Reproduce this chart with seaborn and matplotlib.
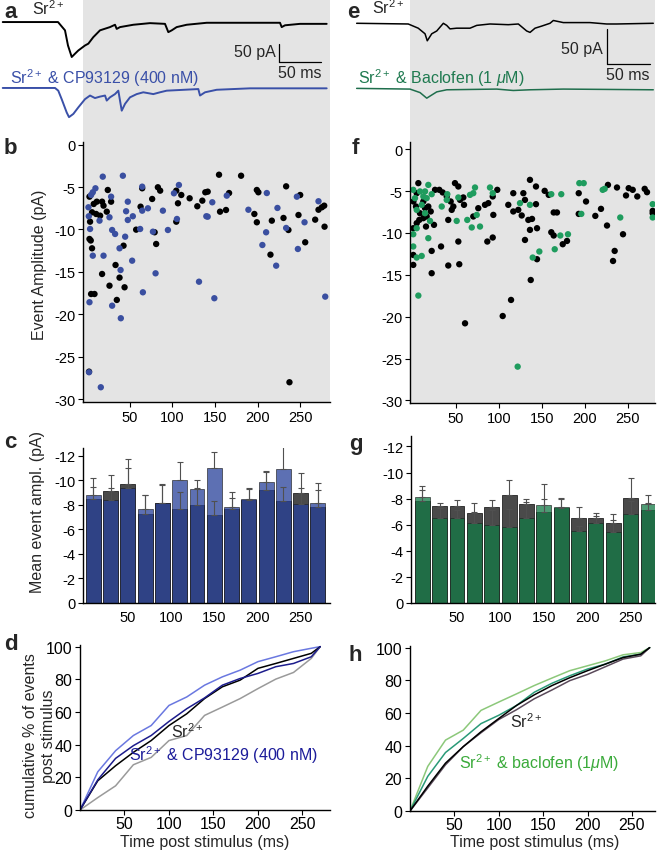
import numpy as np
import matplotlib
matplotlib.use("Agg")
import matplotlib.pyplot as plt
import seaborn as sns

# ---------------- DATA ----------------
# panel a traces (time ms, current pA relative to baseline)
tr_a_sr_t = [-99.2, -34.3, -26.1, -22.6, -18.2, -14.4, -10.5, -2.6, 1.3, 7.1, 15.0, 26.7, 32.6, 34.6, 38.5,
             54.1, 73.7, 91.3, 95.2, 99.2, 105.0, 116.8, 140.3, 226.3, 228.3, 232.2, 249.8, 281.1]
tr_a_sr_i = [0, 0, -23, -65, -97, -88, -79, -65, -60, -42, -23, -14, -7.5, -19, -14,
             -7.5, -3, -5, -28, -23, -14, -7.5, -2, -2, -14, -9, -5, -5]
tr_a_cp_t = [-99.2, -37.8, -34.0, -30.0, -24.1, -21.4, -16.3, -10.5, -2.6, 3.3, 9.1, 15.0, 20.9, 22.9, 26.7,
             32.6, 36.5, 40.5, 44.4, 50.2, 58.1, 65.8, 77.6, 85.4, 93.3, 130.4, 132.4, 138.3, 152.0, 191.1, 281.1]
tr_a_cp_i = [0, 0, -7.5, -31, -68, -81, -72, -54, -31, -21, -28, -24, -21, -35, -26,
             -17, -7.5, -63, -44, -26, -17, -12, -17, -12, -7.5, -3, -21, -12, -5, -1, -1]
# panel e traces
tr_e_sr_t = [-65.5, -5.5, 0.3, 6.1, 14.0, 16.6, 21.8, 27.6, 35.3, 39.2, 43.0, 50.8, 66.3, 74.1, 89.5, 110.8,
             122.5, 132.2, 136.1, 141.9, 149.7, 159.3, 163.2, 174.8, 205.8, 225.2, 236.9, 279.4]
tr_e_sr_i = [0, -1, -4, -7, -15, -25, -15, -11, 0, -3, -8, -7, -7, -3, -1, -2,
             -1, -11, -13, -7, -4, 0, 4, 1, 1, -1, -1, 0]
tr_e_bac_t = [-65.5, -3.5, 8.2, 16.0, 19.8, 27.6, 39.2, 97.3, 116.6, 136.1, 174.8, 279.4]
tr_e_bac_i = [1, 0, -5, -13, -10, -4, -1, 0, -2, -1, 0, -1]

# panel b scatter
b_sr_x = [24.1, 2.6, 11.2, 17.4, 19.1, 7.6, 28.0, 5.6, 10.4, 15.1, 22.9, 3.3, 2.6, 5.6, 4.1, 64.5, 82.9, 85.6,
          76.2, 62.6, 57.4, 79.1, 80.9, 42.6, 33.2, 17.4, 37.9, 26.1, 43.8, 4.5, 8.5, 34.7, 104.5, 110.4, 120.2,
          106.5, 129.2, 135.1, 138.6, 104.5, 154.7, 180.6, 141.4, 166.5, 199.1, 200.9, 233.5, 250.0, 155.9, 162.9,
          196.2, 199.1, 216.7, 230.4, 236.2, 248.0, 267.6, 271.5, 275.5, 278.2, 278.6, 255.9, 215.1, 2.1, 237.4]
b_sr_y = [-5.34, -6.13, -6.72, -6.72, -7.19, -6.99, -6.72, -7.97, -8.17, -8.37, -7.90, -9.08, -11.12, -12.22,
          -11.3, -5.14, -5.02, -5.42, -6.40, -7.31, -10.02, -10.33, -11.71, -11.91, -14.19, -15.25, -15.68,
          -16.63, -16.82, -17.61, -17.61, -18.31, -5.42, -5.93, -6.32, -6.91, -7.26, -6.60, -5.61, -9.08, -3.54,
          -3.66, -5.54, -5.70, -5.34, -5.61, -4.91, -5.93, -7.90, -7.70, -8.17, -9.15, -8.96, -8.64, -10.06,
          -8.29, -8.84, -7.67, -7.38, -7.19, -9.67, -11.51, -12.97, -26.77, -28.02]
b_cp_x = [18.2, 41.8, 9.6, 6.5, 4.5, 28.0, 1.4, 1.8, 14.4, 26.1, 45.6, 47.6, 53.5, 47.6, 64.5, 64.5, 71.2, 88.8,
          29.2, 32.7, 44.5, 37.9, 3.3, 62.1, 77.1, 94.7, 6.5, 19.1, 52.7, 39.1, 80.2, 65.3, 2.6, 29.2, 131.2,
          107.6, 101.8, 105.3, 139.8, 2.1, 15.9, 39.4, 149.2, 279.4, 146.8, 141.4, 163.8, 210.8, 189.2, 223.3,
          246.1, 271.5, 255.1, 233.5, 210.0, 205.6, 247.3, 221.8]
b_cp_y = [-3.77, -3.66, -5.14, -5.61, -5.93, -6.13, -7.38, -8.44, -8.96, -8.56, -7.85, -6.72, -8.44, -8.88,
          -4.95, -7.78, -7.50, -7.78, -10.06, -10.53, -10.85, -12.22, -9.94, -9.94, -10.26, -10.06, -13.09,
          -13.09, -13.68, -14.78, -15.17, -17.41, -18.58, -18.99, -16.16, -4.75, -5.73, -8.76, -8.44, -26.84,
          -28.61, -20.47, -18.11, -17.92, -6.79, -8.49, -6.01, -5.70, -7.67, -7.46, -6.13, -6.67, -9.15, -9.82,
          -10.33, -11.83, -12.30, -14.27]

# panel f scatter
f_sr_x = [6.2, 4.3, 0.5, 3.5, 12.0, 8.1, 14.0, 17.8, 7.3, 12.0, 15.9, 20.6, 15.1, 24.4, 4.3, 0.3, 25.6, 30.6,
          34.5, 39.2, 43.8, 46.9, 45.0, 54.7, 58.5, 59.3, 48.8, 52.7, 41.0, 70.1, 75.9, 83.7, 87.6, 93.4, 98.0,
          92.7, 52.7, 86.4, 92.7, 32.6, 21.7, 0.3, 0.3, 41.0, 53.8, 21.7, 110.8, 116.6, 116.6, 122.4, 126.4,
          128.3, 130.2, 136.0, 134.1, 136.0, 130.2, 136.9, 143.0, 153.1, 157.8, 143.0, 163.6, 167.4, 138.4,
          144.2, 160.8, 163.6, 174.1, 179.1, 144.2, 192.7, 201.2, 192.7, 212.0, 218.6, 225.6, 226.7, 237.2,
          250.8, 255.5, 247.7, 260.8, 269.4, 272.1, 244.2, 234.5, 232.6, 278.7, 278.7, 60.5, 104.3, 114.0]
f_sr_y = [-4.06, -5.26, -6.25, -6.85, -6.25, -7.65, -7.05, -6.85, -8.45, -8.24, -8.04, -7.44, -9.24, -9.04,
          -8.84, -9.44, -4.86, -4.86, -5.17, -5.65, -6.25, -6.85, -7.25, -6.06, -5.77, -6.65, -4.06, -4.46,
          -8.45, -8.04, -7.05, -6.65, -6.45, -7.85, -4.86, -5.65, -11.03, -11.03, -10.55, -11.62, -12.15,
          -12.63, -13.82, -13.89, -13.74, -14.81, -6.65, -5.26, -7.44, -7.25, -7.92, -5.26, -6.06, -3.67, -8.45,
          -9.64, -10.84, -15.62, -4.46, -4.98, -5.46, -6.57, -7.56, -7.56, -8.33, -9.44, -9.92, -10.31, -11.35,
          -10.96, -13.14, -5.26, -6.25, -7.73, -7.97, -7.13, -9.12, -4.27, -4.58, -4.66, -4.86, -5.53, -5.65,
          -4.74, -5.14, -10.16, -12.15, -13.35, -7.37, -7.65, -20.79, -19.92, -18.0]
f_bac_x = [0.3, 17.8, 8.1, 14.0, 12.0, 2.3, 15.9, 21.7, 4.3, 10.1, 14.0, 4.3, 19.8, 17.8, 0.3, 0.3, 4.3, 10.1,
           33.4, 39.9, 39.2, 52.7, 50.8, 63.1, 68.3, 66.3, 70.1, 72.1, 77.9, 74.1, 89.5, 92.7, 124.4, 136.0,
           139.2, 160.8, 172.4, 193.4, 198.5, 220.6, 222.9, 195.7, 241.0, 171.3, 180.2, 164.8, 146.9, 278.7,
           278.7, 121.7, 6.2]
f_bac_y = [-4.86, -4.27, -5.05, -5.05, -5.65, -5.85, -5.85, -5.38, -7.25, -6.65, -7.65, -9.44, -8.57, -10.63,
           -10.16, -11.62, -12.94, -12.75, -6.85, -5.38, -6.06, -5.77, -8.57, -8.45, -9.35, -5.46, -5.26, -4.58,
           -9.24, -7.85, -4.58, -5.26, -6.45, -6.65, -12.94, -5.38, -5.38, -4.06, -4.06, -4.86, -4.74, -7.73,
           -8.16, -10.31, -10.16, -11.95, -12.22, -6.57, -8.16, -25.96, -17.48]

# panel c / g bars (20 ms bins)
bin_centers = [10, 30, 50, 70, 90, 110, 130, 150, 170, 190, 210, 230, 250, 270]
c_sr_mean = [-8.45, -9.15, -9.75, -7.3, -8.2, -7.65, -8.0, -7.2, -7.65, -8.4, -9.25, -8.3, -9.0, -7.8]
c_sr_sem = [1.0, 1.3, 2.0, 1.55, 1.5, 1.4, 1.4, 1.15, 0.95, 1.0, 1.45, 1.2, 1.65, 1.4]
c_cp_mean = [-8.85, -8.4, -9.35, -7.7, -8.15, -10.05, -9.3, -11.0, -7.8, -8.45, -9.9, -10.9, -8.05, -8.2]
c_cp_sem = [1.35, 1.0, 1.65, 1.15, 1.45, 1.45, 0.75, 1.3, 1.25, 0.85, 0.9, 2.3, 1.3, 1.6]
g_sr_mean = [-7.85, -7.4, -7.4, -6.9, -7.35, -8.3, -7.55, -6.95, -7.3, -6.55, -6.5, -6.15, -8.05, -7.15]
g_sr_sem = [0.8, 0.3, 0.5, 0.75, 0.55, 1.1, 0.45, 1.0, 0.7, 0.8, 0.4, 0.65, 1.5, 0.55]
g_bac_mean = [-8.1, -6.5, -6.5, -6.1, -6.0, -5.8, -6.55, -7.5, -7.35, -5.5, -6.1, -5.45, -6.8, -7.6]
g_bac_sem = [0.85, 0.8, 0.6, 0.9, 1.1, 1.4, 1.2, 1.65, 0.7, 0.4, 0.6, 0.95, 1.0, 0.7]

# panel d / h cumulative curves
cum_t = [0, 20, 40, 60, 80, 100, 120, 140, 160, 180, 200, 220, 240, 260, 270]
d_sr_a = [0, 7.6, 14.8, 27.7, 32.2, 42.5, 45.6, 57.9, 63.0, 68.2, 74.3, 80.1, 84.2, 92.8, 100]
d_sr_b = [0, 17.9, 27.1, 35.3, 42.5, 51.7, 58.9, 68.2, 75.4, 79.5, 86.7, 89.7, 92.8, 95.9, 100]
d_cp_a = [0, 18.5, 31.6, 39.4, 45.6, 54.2, 62.0, 68.6, 76.4, 80.5, 83.6, 87.7, 89.7, 93.8, 100]
d_cp_b = [0, 23.4, 36.3, 45.6, 51.7, 64.0, 69.2, 76.4, 81.5, 85.6, 90.8, 93.8, 96.9, 99.0, 100]
h_sr_a = [0, 15.2, 29.3, 39.4, 48.5, 56.6, 64.6, 71.1, 76.8, 81.6, 85.9, 89.9, 93.9, 96.0, 100]
h_sr_b = [0, 14.1, 28.3, 39.4, 47.9, 56.0, 62.0, 68.7, 74.1, 79.8, 83.6, 88.3, 93.0, 95.0, 100]
h_bac_a = [0, 21.2, 35.8, 44.4, 53.5, 58.6, 64.6, 72.7, 78.2, 82.8, 86.9, 89.9, 94.3, 96.0, 100]
h_bac_b = [0, 27.3, 43.4, 49.5, 61.6, 66.7, 71.7, 76.8, 81.4, 85.9, 88.9, 91.9, 95.6, 97.0, 100]

amp_ticks = [0, -5, -10, -15, -20, -25, -30]
bar_ticks = [0, -2, -4, -6, -8, -10, -12]
cum_ticks = [0, 20, 40, 60, 80, 100]
time_ticks = [50, 100, 150, 200, 250]

# ---------------- STYLE ----------------
sns.set_theme(style="ticks")
plt.rcParams['font.family'] = ['Liberation Sans', 'DejaVu Sans']
plt.rcParams['axes.unicode_minus'] = False
plt.rcParams['mathtext.fontset'] = 'custom'
plt.rcParams['mathtext.rm'] = 'Liberation Sans'
plt.rcParams['mathtext.it'] = 'Liberation Sans:italic'
plt.rcParams['mathtext.bf'] = 'Liberation Sans:bold'

W, H = 658, 853
fig = plt.figure(figsize=(W / 100, H / 100), dpi=100)


def rect(x0, y0, x1, y1):
    return [x0 / W, 1 - y1 / H, (x1 - x0) / W, (y1 - y0) / H]


def ftext(x, y, s, **kw):
    fig.text(x / W, 1 - y / H, s, **kw)


BG = '#e4e4e4'
BLUE_DOT = '#3a4fa0'
GREEN_DOT = '#1f9c5e'
TICK_FS = 10.5
LAB_FS = 11.5


def style_axis(ax):
    sns.despine(ax=ax)
    for sp in ('left', 'bottom'):
        ax.spines[sp].set_linewidth(1.0)
        ax.spines[sp].set_color('black')
    ax.tick_params(axis='both', labelsize=TICK_FS, length=3.5, width=0.8, pad=2, colors='black')


# ---------------- PANEL a / e traces ----------------
def trace_panel(x0, x1, xlim, ylim, shade_from, sr_t, sr_i, dr_t, dr_i, offset, dr_color, lw):
    ax = fig.add_axes(rect(x0, 0, x1, 143))
    ax.set_xlim(*xlim)
    ax.set_ylim(*ylim)
    ax.axvspan(shade_from, xlim[1], color=BG, lw=0, zorder=0)
    sns.lineplot(x=sr_t, y=sr_i, color='black', lw=lw, ax=ax, estimator=None, sort=False)
    sns.lineplot(x=dr_t, y=np.array(dr_i) - offset, color=dr_color, lw=lw, ax=ax, estimator=None, sort=False)
    ax.axis('off')
    return ax


axA = trace_panel(0, 330, (-102.4, 285), (-333, 64), -5, tr_a_sr_t, tr_a_sr_i, tr_a_cp_t, tr_a_cp_i,
                  183, '#3a50a8', 1.4)
axA.plot([225, 225], [-60, -110], color='black', lw=0.9)
axA.plot([225, 275], [-110, -110], color='black', lw=0.9)
axA.text(221, -82, '50 pA', ha='right', va='center', fontsize=11.5)
axA.text(250, -118, '50 ms', ha='center', va='top', fontsize=11.5)

axE = trace_panel(330, 655, (-96.5, 281.4), (-169.6, 34.7), -3.5, tr_e_sr_t, tr_e_sr_i, tr_e_bac_t, tr_e_bac_i,
                  94, '#1f6e4c', 1.1)
axE.plot([225.6, 225.6], [-8, -58], color='black', lw=0.9)
axE.plot([225.6, 275.6], [-58, -58], color='black', lw=0.9)
axE.text(221, -36, '50 pA', ha='right', va='center', fontsize=11.5)
axE.text(250, -62, '50 ms', ha='center', va='top', fontsize=11.5)

# ---------------- PANEL b / f scatter ----------------
def scatter_panel(x0, x1, y0, y1, xlim, ylim, sx, sy, dx, dy, dcol):
    ax = fig.add_axes(rect(x0, y0, x1, y1))
    ax.set_facecolor(BG)
    sns.scatterplot(x=sx, y=sy, color='black', s=21, edgecolor='none', linewidth=0, ax=ax)
    sns.scatterplot(x=dx, y=dy, color=dcol, s=21, edgecolor='none', linewidth=0, ax=ax)
    ax.set_xlim(*xlim)
    ax.set_ylim(*ylim)
    ax.set_yticks(amp_ticks)
    ax.set_xticks(time_ticks)
    ax.set_xlabel('')
    ax.set_ylabel('')
    style_axis(ax)
    return ax


axB = scatter_panel(83, 330, 143, 403, (-5, 285), (-30.35, 0.32), b_sr_x, b_sr_y, b_cp_x, b_cp_y, BLUE_DOT)
axF = scatter_panel(410, 655, 143, 404, (-3.5, 281.4), (-30.3, 0.85), f_sr_x, f_sr_y, f_bac_x, f_bac_y, GREEN_DOT)

# ---------------- PANEL c / g bars ----------------
def bar_panel(x0, x1, y0, y1, xlim, ylim, sr_m, sr_s, dr_m, dr_s, dcol):
    ax = fig.add_axes(rect(x0, y0, x1, y1))
    sns.barplot(x=bin_centers, y=sr_m, native_scale=True, color='#4a4a4a', saturation=1, width=0.86,
                edgecolor='#222222', linewidth=0.6, errorbar=None, ax=ax)
    sns.barplot(x=bin_centers, y=dr_m, native_scale=True, color=dcol, saturation=1, width=0.86,
                alpha=0.75, edgecolor='#222222', linewidth=0.6, errorbar=None, ax=ax)
    zeros = [0] * len(bin_centers)
    ax.errorbar(bin_centers, sr_m, yerr=[sr_s, zeros], fmt='none', ecolor='#505050', elinewidth=0.8,
                capsize=2.5, capthick=0.8)
    ax.errorbar(bin_centers, dr_m, yerr=[dr_s, zeros], fmt='none', ecolor='#505050', elinewidth=0.8,
                capsize=2.5, capthick=0.8)
    ax.set_xlim(*xlim)
    ax.set_ylim(*ylim)
    ax.set_yticks(bar_ticks)
    ax.set_xticks(time_ticks)
    ax.set_xlabel('')
    ax.set_ylabel('')
    style_axis(ax)
    ax.tick_params(axis='x', length=0, pad=5)
    return ax


axC = bar_panel(83, 330, 449, 604, (-2, 284), (0, -12.65), c_sr_mean, c_sr_sem, c_cp_mean, c_cp_sem, '#27409a')
axG = bar_panel(411, 655, 437, 604, (-3, 278), (0, -12.8), g_sr_mean, g_sr_sem, g_bac_mean, g_bac_sem, '#127a45')

# ---------------- PANEL d / h cumulative ----------------
def cum_panel(x0, x1, y0, y1, xlim, lines):
    ax = fig.add_axes(rect(x0, y0, x1, y1))
    for ys, col in lines:
        sns.lineplot(x=cum_t, y=ys, color=col, lw=1.1, ax=ax, estimator=None, sort=False)
    ax.set_xlim(*xlim)
    ax.set_ylim(0, 101)
    ax.set_yticks(cum_ticks)
    ax.set_xticks(time_ticks)
    ax.set_xlabel('')
    ax.set_ylabel('')
    style_axis(ax)
    ax.tick_params(labelsize=11.5)
    ax.tick_params(axis='x', pad=1)
    return ax


axD = cum_panel(80, 330, 646, 811, (0, 281),
                [(d_sr_a, '#9a9a9a'), (d_cp_b, '#6a78e0'), (d_sr_b, 'black'), (d_cp_a, '#1c1c8c')])
axH = cum_panel(410, 655, 647, 812, (0, 276),
                [(h_bac_b, '#8cc87a'), (h_bac_a, '#2a9a78'), (h_sr_b, '#5a4a5a'), (h_sr_a, 'black')])

# ---------------- TEXT ----------------
for lx, ly, s in [(4, 12, 'a'), (4, 148, 'b'), (4, 443, 'c'), (4, 645, 'd'),
                  (347, 12, 'e'), (352, 148, 'f'), (349, 445, 'g'), (349, 656, 'h')]:
    ftext(lx, ly, s, fontsize=16, fontweight='bold', ha='left', va='center')

ftext(32, 9, 'Sr$^{2+}$', fontsize=11.5, ha='left', va='center')
ftext(10, 78, 'Sr$^{2+}$ & CP93129 (400 nM)', fontsize=11.5, ha='left', va='center', color='#3a50a8')
ftext(372, 8, 'Sr$^{2+}$', fontsize=11.5, ha='left', va='center')
ftext(358, 78, 'Sr$^{2+}$ & Baclofen (1 $\\mu$M)', fontsize=11.5, ha='left', va='center', color='#1f7a50')

ftext(40, 265, 'Event Amplitude (pA)', fontsize=LAB_FS, rotation=90, ha='center', va='center')
ftext(38, 512, 'Mean event ampl. (pA)', fontsize=LAB_FS, rotation=90, ha='center', va='center')
ftext(31, 736, 'cumulative % of events', fontsize=LAB_FS, rotation=90, ha='center', va='center')
ftext(48, 736, 'post stimulus', fontsize=LAB_FS, rotation=90, ha='center', va='center')
ftext(205, 843, 'Time post stimulus (ms)', fontsize=LAB_FS, ha='center', va='center')
ftext(535, 843, 'Time post stimulus (ms)', fontsize=LAB_FS, ha='center', va='center')

ftext(171, 732, 'Sr$^{2+}$', fontsize=11.5, ha='left', va='center')
ftext(129, 755, 'Sr$^{2+}$ & CP93129 (400 nM)', fontsize=11.5, ha='left', va='center', color='#1c1c9a')
ftext(510, 722, 'Sr$^{2+}$', fontsize=11.5, ha='left', va='center')
ftext(459, 763, 'Sr$^{2+}$ & baclofen (1$\\mu$M)', fontsize=11.5, ha='left', va='center', color='#3aaa3a')

fig.savefig('out.png', dpi=100)
